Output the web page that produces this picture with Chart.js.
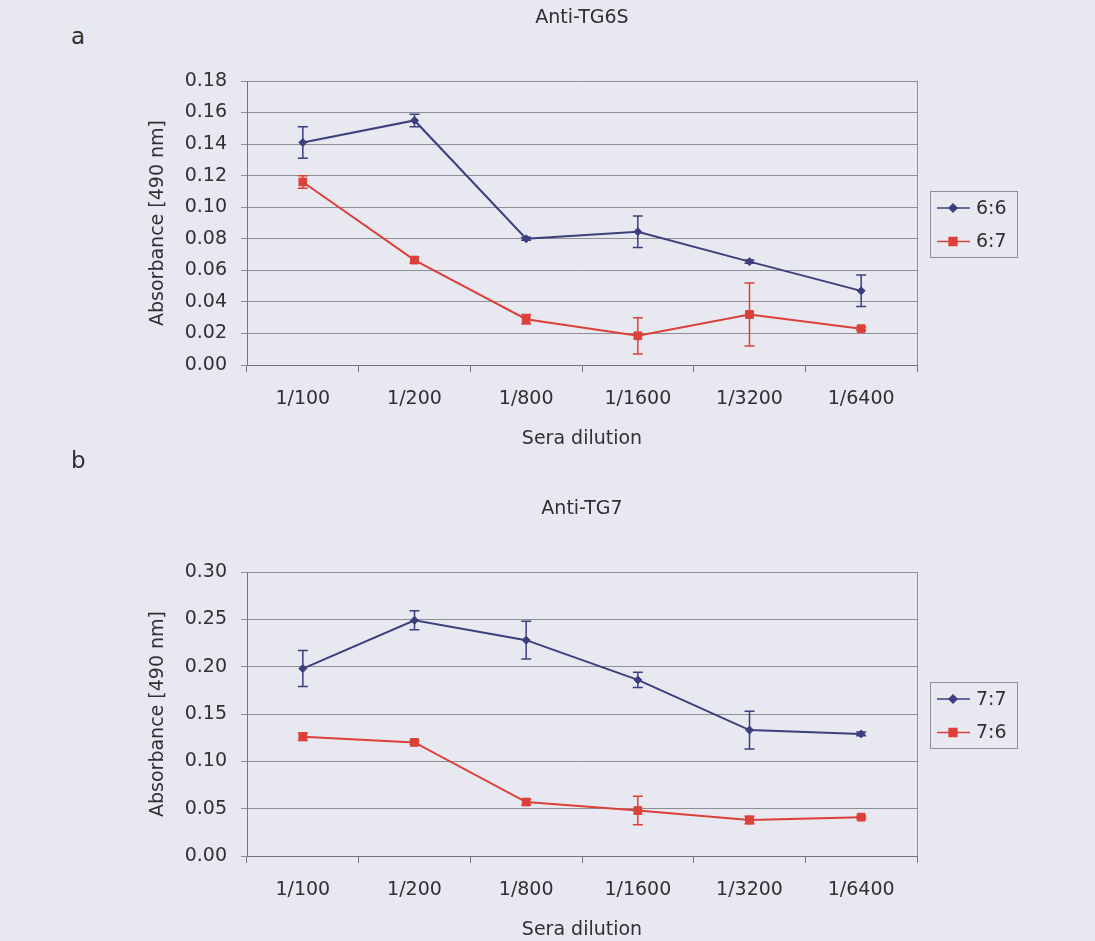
<!DOCTYPE html>
<html>
<head>
<meta charset="utf-8">
<title>Anti-TG6S / Anti-TG7 ELISA</title>
<script src="https://cdn.jsdelivr.net/npm/chart.js@4.4.1/dist/chart.umd.min.js"></script>
<style>
  html, body { margin: 0; padding: 0; background: #e8e8f1; overflow: hidden; }
  body { width: 1095px; height: 941px; position: relative; font-family: 'DejaVu Sans', sans-serif; }
  .panel { position: absolute; left: 0; width: 1095px; height: 450px; }
  .tag { position: absolute; font-size: 23px; color: #2f2f35; line-height: 1; }
</style>
</head>
<body>
<div class="tag" style="left:71px; top:25px;">a</div>
<div class="panel" style="top:0;"><canvas id="chartA"></canvas></div>
<div class="tag" style="left:71px; top:449px;">b</div>
<div class="panel" style="top:491px;"><canvas id="chartB"></canvas></div>

<script>
// ── Data ──────────────────────────────────────────────────────────
const dilutions = ['1/100', '1/200', '1/800', '1/1600', '1/3200', '1/6400'];

// Anti-TG6S
const tg6sTicks = [0, 0.02, 0.04, 0.06, 0.08, 0.10, 0.12, 0.14, 0.16, 0.18];
const serum66 = [0.141, 0.155, 0.080, 0.0845, 0.0655, 0.047];
const serum66Err = [0.010, 0.004, 0.001, 0.010, 0.001, 0.010];
const serum67 = [0.116, 0.0665, 0.029, 0.0185, 0.032, 0.023];
const serum67Err = [0.004, 0.002, 0.003, 0.0115, 0.020, 0.001];

// Anti-TG7
const tg7Ticks = [0, 0.05, 0.10, 0.15, 0.20, 0.25, 0.30];
const serum77 = [0.198, 0.249, 0.228, 0.186, 0.133, 0.129];
const serum77Err = [0.019, 0.010, 0.020, 0.008, 0.020, 0.002];
const serum76 = [0.126, 0.120, 0.057, 0.048, 0.038, 0.041];
const serum76Err = [0.004, 0.002, 0.003, 0.015, 0.004, 0.001];

// ── Styles ────────────────────────────────────────────────────────
const BLUE = '#3b3f7d';
const RED = '#dc4038';
const TEXT = '#2f2f35';
const GRID = '#8e8e97';
const AXIS = '#74747c';
const FONT = { family: "'DejaVu Sans', sans-serif", size: 19 };

// ── Plugins ───────────────────────────────────────────────────────

// vertical error bars with caps, from dataset.errors
const errorBars = {
  id: 'errorBars',
  afterDatasetsDraw(chart) {
    const { ctx, scales: { y } } = chart;
    chart.data.datasets.forEach((ds, i) => {
      if (!ds.errors) return;
      const meta = chart.getDatasetMeta(i);
      ctx.save();
      ctx.strokeStyle = ds.borderColor;
      ctx.lineWidth = 1.5;
      meta.data.forEach((pt, j) => {
        const err = ds.errors[j];
        if (!err) return;
        const top = y.getPixelForValue(ds.data[j] + err);
        const bot = y.getPixelForValue(ds.data[j] - err);
        ctx.beginPath();
        ctx.moveTo(pt.x, top); ctx.lineTo(pt.x, bot);
        ctx.moveTo(pt.x - 5, top); ctx.lineTo(pt.x + 5, top);
        ctx.moveTo(pt.x - 5, bot); ctx.lineTo(pt.x + 5, bot);
        ctx.stroke();
      });
      ctx.restore();
    });
  }
};

// right edge of the plot frame
const plotFrame = {
  id: 'plotFrame',
  afterDraw(chart) {
    const { ctx, chartArea } = chart;
    ctx.save();
    ctx.strokeStyle = GRID;
    ctx.lineWidth = 1;
    ctx.beginPath();
    ctx.moveTo(Math.round(chartArea.right) + 0.5, chartArea.top);
    ctx.lineTo(Math.round(chartArea.right) + 0.5, chartArea.bottom);
    ctx.stroke();
    ctx.restore();
  }
};

// Excel-style boxed legend (line + marker) to the right of the plot
const boxLegend = {
  id: 'boxLegend',
  afterDraw(chart) {
    const { ctx, chartArea } = chart;
    const w = 87, h = 66;
    const left = Math.round(chartArea.right + 13);
    const top = Math.round((chartArea.top + chartArea.bottom) / 2 + 1 - h / 2);
    ctx.save();
    ctx.strokeStyle = GRID;
    ctx.lineWidth = 1;
    ctx.strokeRect(left + 0.5, top + 0.5, w, h);
    chart.data.datasets.forEach((ds, i) => {
      const cy = top + 17 + i * 33.5;
      ctx.strokeStyle = ds.borderColor;
      ctx.lineWidth = 1.5;
      ctx.beginPath();
      ctx.moveTo(left + 7, cy);
      ctx.lineTo(left + 40, cy);
      ctx.stroke();
      ctx.fillStyle = ds.pointBackgroundColor;
      ctx.strokeStyle = ds.pointBorderColor;
      Chart.helpers.drawPoint(ctx, {
        pointStyle: ds.pointStyle, radius: ds.pointRadius, rotation: 0, borderWidth: 1
      }, left + 23, cy);
      ctx.fillStyle = TEXT;
      ctx.font = `${FONT.size}px ${FONT.family}`;
      ctx.textBaseline = 'middle';
      ctx.textAlign = 'left';
      ctx.fillText(ds.label, left + 46, cy + 1);
    });
    ctx.restore();
  }
};

// ── Chart factory ─────────────────────────────────────────────────

function seriesDataset(label, data, errors, color, pointStyle, radius) {
  return {
    label,
    data,
    errors,
    borderColor: color,
    borderWidth: 2,
    pointStyle,
    pointRadius: radius,
    pointHoverRadius: radius,
    pointBackgroundColor: color,
    pointBorderColor: color,
    pointBorderWidth: 1,
    tension: 0,
  };
}

function renderPanel(canvasId, title, tickValues, datasets) {
  const ctx = document.getElementById(canvasId).getContext('2d');
  const maxVal = tickValues[tickValues.length - 1];
  const step = tickValues[1] - tickValues[0];

  return new Chart(ctx, {
    type: 'line',
    data: { labels: dilutions, datasets },
    plugins: [errorBars, plotFrame, boxLegend],
    options: {
      responsive: true,
      maintainAspectRatio: false,
      animation: false,
      layout: { padding: { left: 134, right: 178, top: 0, bottom: 0 } },
      plugins: {
        legend: { display: false },
        tooltip: { enabled: false },
        title: {
          display: true,
          text: title,
          color: TEXT,
          font: { ...FONT, weight: 'normal' },
          fullSize: false,
          padding: { top: 6.6, bottom: 51.6 },
        },
      },
      scales: {
        x: {
          offset: true,
          grid: {
            offset: true,
            drawOnChartArea: false,
            drawTicks: true,
            tickLength: 7,
            color: AXIS,
          },
          border: { display: true, color: AXIS, width: 1 },
          ticks: { color: TEXT, font: FONT, padding: 15.6, maxRotation: 0, autoSkip: false },
          title: {
            display: true,
            text: 'Sera dilution',
            color: TEXT,
            font: FONT,
            padding: { top: 1.2, bottom: 0 },
          },
        },
        y: {
          min: 0,
          max: maxVal,
          afterBuildTicks(scale) {
            scale.ticks = tickValues.map(v => ({ value: v }));
          },
          ticks: {
            stepSize: step,
            color: TEXT,
            font: FONT,
            padding: 14,
            callback: v => Number(v).toFixed(2),
          },
          grid: { color: GRID, lineWidth: 1, tickLength: 6 },
          border: { display: true, color: AXIS, width: 1 },
          title: {
            display: true,
            text: 'Absorbance [490 nm]',
            color: TEXT,
            font: FONT,
            padding: { top: 12.6, bottom: 0 },
          },
          afterFit(scale) { scale.width = 113; },
        },
      },
    },
  });
}

// ── Panels ────────────────────────────────────────────────────────

renderPanel('chartA', 'Anti-TG6S', tg6sTicks, [
  seriesDataset('6:6', serum66, serum66Err, BLUE, 'rectRot', 4),
  seriesDataset('6:7', serum67, serum67Err, RED, 'rect', 5.5),
]);

renderPanel('chartB', 'Anti-TG7', tg7Ticks, [
  seriesDataset('7:7', serum77, serum77Err, BLUE, 'rectRot', 4),
  seriesDataset('7:6', serum76, serum76Err, RED, 'rect', 5.5),
]);
</script>
</body>
</html>
